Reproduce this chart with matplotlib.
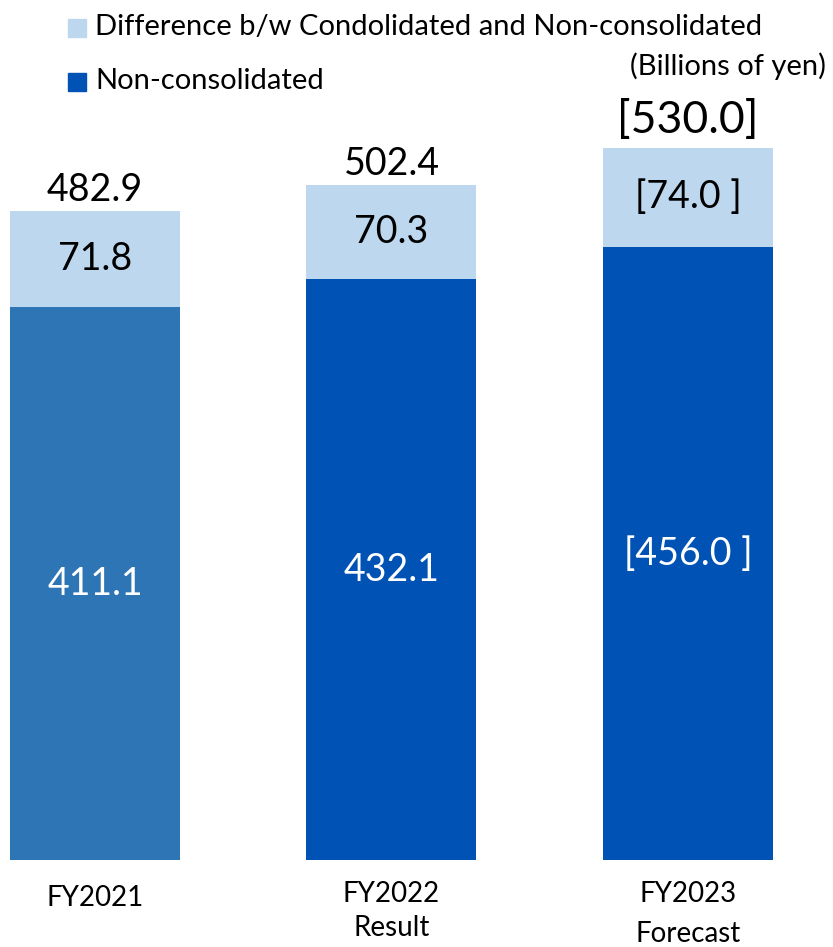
import matplotlib
matplotlib.use("Agg")
import matplotlib.pyplot as plt
from matplotlib.patches import Rectangle

categories = ["FY2021", "FY2022\nResult", "FY2023\nForecast"]
non_consolidated = [411.1, 432.1, 456.0]
difference = [71.8, 70.3, 74.0]
totals = [482.9, 502.4, 530.0]
forecast = [False, False, True]

plt.rcParams["font.family"] = ["Lato", "DejaVu Sans"]

dark_colors = ["#2E75B6", "#0052B4", "#0052B4"]
light_color = "#BDD7EE"

W, H = 833, 947
fig = plt.figure(figsize=(W / 100, H / 100), dpi=100)
ax = fig.add_axes([0, 0, 1, 1])
# axis limits chosen so the baseline sits at y=860px and bars are 170px wide
px_per_unit = 1.344
ax.set_xlim(-95 / 296.5, (W - 95) / 296.5)
ax.set_ylim(-(H - 860) / px_per_unit, 860 / px_per_unit)
ax.axis("off")


def py(px):
    # pixel row (from top) -> data y
    return (860 - px) / px_per_unit


x = range(len(categories))
ax.bar(x, non_consolidated, width=170 / 296.5, color=dark_colors)
ax.bar(x, difference, width=170 / 296.5, bottom=non_consolidated,
       color=light_color)

label_rows = [898, 911, 914]
label_spacing = [1.3, 1.4, 1.62]
for i in x:
    nc = f"{non_consolidated[i]:.1f}"
    df = f"{difference[i]:.1f}"
    tot = f"{totals[i]:.1f}"
    if forecast[i]:
        nc, df, tot = f"[{nc} ]", f"[{df} ]", f"[{tot}]"
    ax.text(i, non_consolidated[i] / 2, nc, ha="center", va="center",
            color="white", fontsize=27)
    ax.text(i, non_consolidated[i] + difference[i] / 2, df, ha="center",
            va="center", color="black", fontsize=27)
    ax.text(i, totals[i] + (5 if forecast[i] else 2), tot, ha="center",
            va="bottom", color="black", fontsize=32 if forecast[i] else 27)
    ax.text(i, py(label_rows[i]), categories[i], ha="center", va="center",
            fontsize=20, linespacing=label_spacing[i])

# legend: colour squares with labels
fig.patches.append(Rectangle((68 / W, 1 - 37 / H), 18 / W, 18 / H,
                             transform=fig.transFigure, color=light_color))
fig.patches.append(Rectangle((68 / W, 1 - 91 / H), 18 / W, 18 / H,
                             transform=fig.transFigure, color="#0052B4"))
fig.text(95 / W, 1 - 27 / H, "Difference b/w Condolidated and Non-consolidated",
         ha="left", va="center", fontsize=21)
fig.text(95 / W, 1 - 81 / H, "Non-consolidated", ha="left", va="center",
         fontsize=21)
fig.text(826 / W, 1 - 66 / H, "(Billions of yen)", ha="right", va="center",
         fontsize=21)

fig.savefig("out.png", dpi=100)
